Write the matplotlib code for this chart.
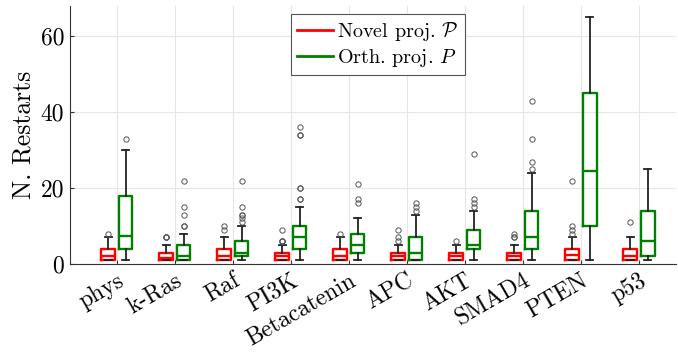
import matplotlib
matplotlib.use("Agg")
import matplotlib.pyplot as plt
from matplotlib.lines import Line2D
import matplotlib.transforms as mtransforms

plt.rcParams['font.family'] = ['cmr10', 'DejaVu Serif']
plt.rcParams['mathtext.fontset'] = 'cm'
plt.rcParams['axes.formatter.use_mathtext'] = True

categories = ['phys', 'k-Ras', 'Raf', 'PI3K', 'Betacatenin', 'APC', 'AKT', 'SMAD4', 'PTEN', 'p53']

novel_lo = [1, 1, 1, 1, 1, 1, 1, 1, 1, 1]
novel_q1 = [1, 1, 1, 1, 1, 1, 1, 1, 1, 1]
novel_med = [2, 1.5, 2, 2, 2, 2, 2, 2, 2.5, 2]
novel_q3 = [4, 3, 4, 3, 4, 3, 3, 3, 4, 4]
novel_hi = [7, 5, 7, 5, 7, 5, 5, 5, 7, 7]
novel_out = [[8], [7, 7, 7], [9, 10], [6, 6, 6, 9], [8], [6, 7, 9], [6],
             [7, 7, 8], [8, 9, 10, 22], [11]]

orth_lo = [1, 1, 1, 1, 1, 1, 1, 1, 1, 1]
orth_q1 = [4, 1, 2, 4, 3, 1, 4, 4, 10, 2]
orth_med = [7.5, 2, 3, 7, 5, 3, 5, 7, 24.5, 6]
orth_q3 = [18, 5, 6, 10, 8, 7, 9, 14, 45, 14]
orth_hi = [30, 8, 10, 15, 12, 13, 14, 24, 65, 25]
orth_out = [[33], [10, 10, 13, 15, 22], [11, 12, 13, 13, 15, 22],
            [17, 17, 20, 20, 34, 34, 36], [16, 17, 21], [14, 15, 16],
            [15, 16, 17, 29], [25, 27, 33, 43], [], []]

legend_labels = [r'Novel proj. $\mathcal{P}$', r'Orth. proj. $P$']
yticks = [0, 20, 40, 60]


def make_stats(lo, q1, med, q3, hi, out):
    return [dict(whislo=a, q1=b, med=c, q3=d, whishi=e, fliers=f)
            for a, b, c, d, e, f in zip(lo, q1, med, q3, hi, out)]


fig = plt.figure(figsize=(6.78, 3.52), dpi=100)
ax = fig.add_axes([0.103, 0.25, 0.894, 0.733])

pos = list(range(1, len(categories) + 1))
red = '#ff0000'
green = '#008000'
flier = dict(marker='o', markersize=3.8, markerfacecolor='none',
             markeredgecolor='#555555', markeredgewidth=0.7, linestyle='none')

for stats, offs, col in [
        (make_stats(novel_lo, novel_q1, novel_med, novel_q3, novel_hi, novel_out), -0.145, red),
        (make_stats(orth_lo, orth_q1, orth_med, orth_q3, orth_hi, orth_out), 0.15, green)]:
    ax.bxp(stats, positions=[p + offs for p in pos], widths=0.24,
           capwidths=0.13, showfliers=True,
           boxprops=dict(color=col, linewidth=1.7),
           medianprops=dict(color=col, linewidth=1.7),
           whiskerprops=dict(color='#222222', linewidth=1.3, linestyle='-'),
           capprops=dict(color='#222222', linewidth=1.3),
           flierprops=flier, manage_ticks=False, zorder=3)

ax.set_xlim(0.19, 10.64)
ax.set_ylim(0, 68)
ax.set_xticks(pos)
ax.set_yticks(yticks)
ax.set_yticklabels([str(t) for t in yticks], fontsize=17)
labs = ax.set_xticklabels(categories, fontsize=17, rotation=30,
                          ha='right', rotation_mode='anchor')
off = mtransforms.ScaledTranslation(10 / 100, -7 / 100, fig.dpi_scale_trans)
for t in labs:
    t.set_transform(t.get_transform() + off)

ax.grid(True, color='#e6e6e6', linewidth=0.8, zorder=0)
ax.set_axisbelow(True)
for s in ['top', 'right']:
    ax.spines[s].set_visible(False)
for s in ['left', 'bottom']:
    ax.spines[s].set_color('#333333')
    ax.spines[s].set_linewidth(0.8)
ax.tick_params(direction='in', length=3, color='#333333', pad=4)
ax.set_ylabel('N. Restarts', fontsize=18.5, labelpad=4)

handles = [Line2D([], [], color=red, linewidth=2),
           Line2D([], [], color=green, linewidth=2)]
leg = ax.legend(handles, legend_labels, loc='upper center',
                bbox_to_anchor=(0.508, 0.97), fontsize=14.5, fancybox=False,
                framealpha=1, edgecolor='#555555', handlelength=1.8,
                handletextpad=0.2, borderpad=0.3, labelspacing=0.2,
                borderaxespad=0)
leg.get_frame().set_linewidth(0.8)

fig.savefig('out.png', dpi=100)
